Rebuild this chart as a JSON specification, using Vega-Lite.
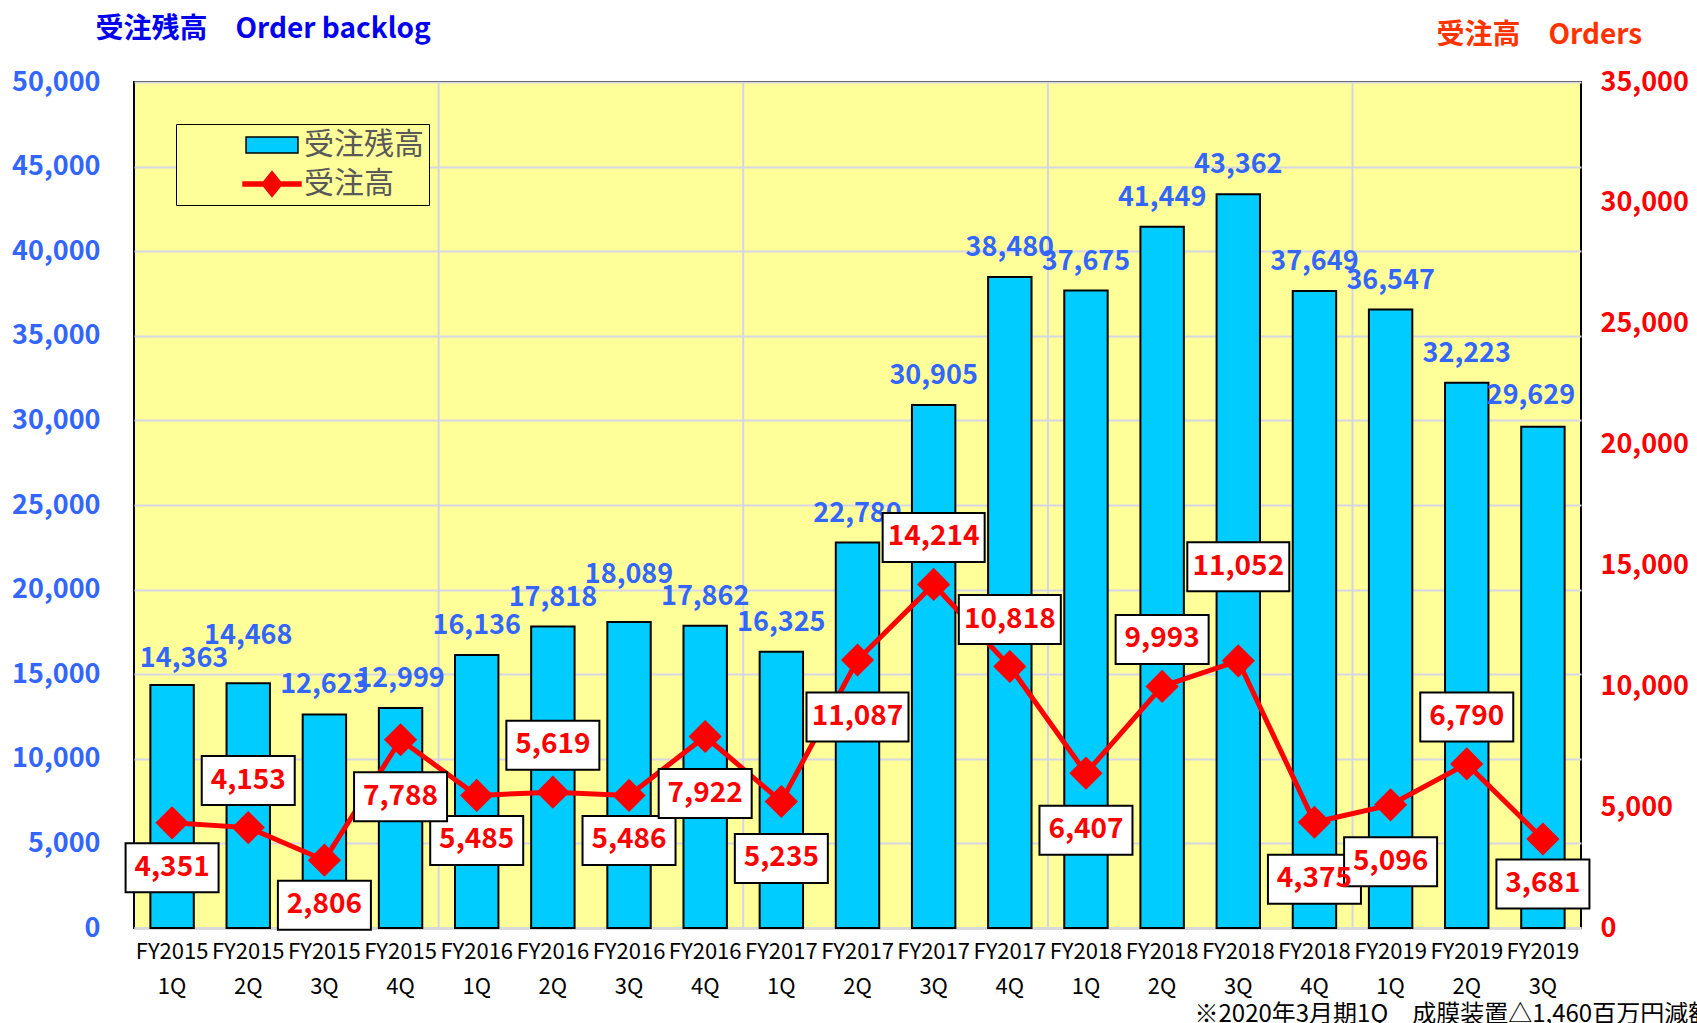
{
  "$schema": "https://vega.github.io/schema/vega-lite/v6.json",
  "autosize": {"type": "none"},
  "width": 1447,
  "height": 846,
  "padding": {"left": 134, "top": 82, "right": 116, "bottom": 95},
  "background": "#FFFFFF",
  "config": {
    "font": "Noto Sans CJK JP",
    "view": {"fill": "#FFFF99", "stroke": "#000000", "strokeWidth": 2}
  },
  "data": {
    "values": [
      {"period": "FY2015 1Q", "backlog": 14363, "orders": 4351},
      {"period": "FY2015 2Q", "backlog": 14468, "orders": 4153},
      {"period": "FY2015 3Q", "backlog": 12623, "orders": 2806},
      {"period": "FY2015 4Q", "backlog": 12999, "orders": 7788},
      {"period": "FY2016 1Q", "backlog": 16136, "orders": 5485},
      {"period": "FY2016 2Q", "backlog": 17818, "orders": 5619},
      {"period": "FY2016 3Q", "backlog": 18089, "orders": 5486},
      {"period": "FY2016 4Q", "backlog": 17862, "orders": 7922},
      {"period": "FY2017 1Q", "backlog": 16325, "orders": 5235},
      {"period": "FY2017 2Q", "backlog": 22780, "orders": 11087},
      {"period": "FY2017 3Q", "backlog": 30905, "orders": 14214},
      {"period": "FY2017 4Q", "backlog": 38480, "orders": 10818},
      {"period": "FY2018 1Q", "backlog": 37675, "orders": 6407},
      {"period": "FY2018 2Q", "backlog": 41449, "orders": 9993},
      {"period": "FY2018 3Q", "backlog": 43362, "orders": 11052},
      {"period": "FY2018 4Q", "backlog": 37649, "orders": 4375},
      {"period": "FY2019 1Q", "backlog": 36547, "orders": 5096},
      {"period": "FY2019 2Q", "backlog": 32223, "orders": 6790},
      {"period": "FY2019 3Q", "backlog": 29629, "orders": 3681}
    ]
  },
  "encoding": {
    "x": {
      "field": "period", "type": "nominal", "sort": null,
      "scale": {
        "domain": ["FY2015 1Q", "FY2015 2Q", "FY2015 3Q", "FY2015 4Q", "FY2016 1Q", "FY2016 2Q", "FY2016 3Q", "FY2016 4Q", "FY2017 1Q", "FY2017 2Q", "FY2017 3Q", "FY2017 4Q", "FY2018 1Q", "FY2018 2Q", "FY2018 3Q", "FY2018 4Q", "FY2019 1Q", "FY2019 2Q", "FY2019 3Q"],
        "paddingInner": 0.43, "paddingOuter": 0.215
      },
      "axis": {
        "labelExpr": "split(datum.value, ' ')",
        "labelFontSize": 22, "labelColor": "#000000", "labelFontWeight": "normal",
        "labelLineHeight": 35, "labelPadding": 13, "labelBaseline": "top",
        "labelAngle": 0, "labelOverlap": false, "ticks": false,
        "domainColor": "#D9D9D9", "domainWidth": 3, "grid": false,
        "title": "※2020年3月期1Q　成膜装置△1,460百万円減額",
        "titleX": 1060, "titleY": 93, "titleAlign": "left", "titleBaseline": "alphabetic",
        "titleFontSize": 24, "titleFontWeight": "normal", "titleColor": "#000000"
      }
    }
  },
  "resolve": {"scale": {"y": "independent"}},
  "layer": [
    {
      "transform": [{"filter": {"field": "period", "oneOf": ["FY2016 1Q", "FY2017 1Q", "FY2018 1Q", "FY2019 1Q"]}}],
      "mark": {"type": "rule", "color": "#D4D4E4", "strokeWidth": 2, "xOffset": -38.08},
      "encoding": {}
    },
    {
      "encoding": {
        "y": {
          "field": "backlog", "type": "quantitative",
          "scale": {"domain": [0, 50000], "nice": false},
          "axis": {
            "values": [0, 5000, 10000, 15000, 20000, 25000, 30000, 35000, 40000, 45000, 50000],
            "format": ",d", "labelColor": "#3366FF", "labelFontSize": 27, "labelFontWeight": "bold",
            "labelPadding": 34, "ticks": false, "domain": false,
            "grid": true, "gridColor": "#D6D6E4", "gridWidth": 2,
            "title": "受注残高　Order backlog", "titleAngle": 0, "titleX": -39, "titleY": -45,
            "titleAlign": "left", "titleBaseline": "alphabetic", "titleFontSize": 28,
            "titleFontWeight": "bold", "titleColor": "#0000EE"
          }
        }
      },
      "layer": [
        {
          "mark": {"type": "bar", "stroke": "#000000", "strokeWidth": 2},
          "encoding": {
            "color": {
              "datum": "受注残高", "type": "nominal",
              "scale": {"domain": ["受注残高", "受注高"], "range": ["#00CCFF", "#FF0000"]},
              "legend": {
                "title": null, "orient": "top-left", "offset": 42,
                "fillColor": "#FFFF99", "strokeColor": "#000000",
                "padding": 5, "symbolSize": 900, "symbolOffset": 75, "labelOffset": 16,
                "symbolType": "M-1.73,-0.53L1.73,-0.53L1.73,0.53L-1.73,0.53Z",
                "symbolStrokeColor": "#000000", "symbolStrokeWidth": 1.5, "symbolOpacity": 1,
                "rowPadding": 8, "labelFontSize": 30, "labelColor": "#595959"
              }
            }
          }
        },
        {
          "transform": [{"filter": {"field": "period", "oneOf": ["FY2015 3Q", "FY2015 4Q", "FY2016 1Q", "FY2016 2Q", "FY2016 4Q", "FY2017 1Q", "FY2017 2Q", "FY2017 3Q", "FY2017 4Q", "FY2018 1Q", "FY2018 2Q", "FY2018 3Q", "FY2018 4Q", "FY2019 1Q", "FY2019 2Q"]}}],
          "mark": {"type": "text", "color": "#3366FF", "fontSize": 27, "fontWeight": "bold", "baseline": "middle", "yOffset": -29},
          "encoding": {"text": {"field": "backlog", "type": "quantitative", "format": ",d"}}
        },
        {
          "transform": [{"filter": {"field": "period", "oneOf": ["FY2015 1Q"]}}],
          "mark": {"type": "text", "color": "#3366FF", "fontSize": 27, "fontWeight": "bold", "baseline": "middle", "yOffset": -26, "xOffset": 12},
          "encoding": {"text": {"field": "backlog", "type": "quantitative", "format": ",d"}}
        },
        {
          "transform": [{"filter": {"field": "period", "oneOf": ["FY2019 3Q"]}}],
          "mark": {"type": "text", "color": "#3366FF", "fontSize": 27, "fontWeight": "bold", "baseline": "middle", "yOffset": -31, "xOffset": -12},
          "encoding": {"text": {"field": "backlog", "type": "quantitative", "format": ",d"}}
        },
        {
          "transform": [{"filter": {"field": "period", "oneOf": ["FY2015 2Q", "FY2016 3Q"]}}],
          "mark": {"type": "text", "color": "#3366FF", "fontSize": 27, "fontWeight": "bold", "baseline": "middle", "yOffset": -47},
          "encoding": {"text": {"field": "backlog", "type": "quantitative", "format": ",d"}}
        }
      ]
    },
    {
      "encoding": {
        "y": {
          "field": "orders", "type": "quantitative",
          "scale": {"domain": [0, 35000], "nice": false},
          "axis": {
            "orient": "right",
            "values": [0, 5000, 10000, 15000, 20000, 25000, 30000, 35000],
            "format": ",d", "labelColor": "#FF0000", "labelFontSize": 27, "labelFontWeight": "bold",
            "labelPadding": 19, "ticks": false, "domain": false, "grid": false,
            "title": "受注高　Orders", "titleAngle": 0, "titleX": -145, "titleY": -39,
            "titleAlign": "left", "titleBaseline": "alphabetic", "titleFontSize": 28,
            "titleFontWeight": "bold", "titleColor": "#FF3300"
          }
        }
      },
      "layer": [
        {
          "mark": {"type": "line", "strokeWidth": 5, "stroke": "#FF0000"}
        },
        {
          "mark": {"type": "point", "shape": "diamond", "filled": true, "fill": "#FF0000", "size": 1100, "opacity": 1, "strokeWidth": 0}
        },
        {
          "mark": {"type": "point", "filled": true, "opacity": 0},
          "encoding": {
            "color": {"datum": "受注高", "type": "nominal"},
            "shape": {"datum": "受注高", "type": "nominal", "scale": {"domain": ["受注残高", "受注高"], "range": ["M-1.73,-0.53L1.73,-0.53L1.73,0.53L-1.73,0.53Z", "M-1.93,-0.13L-0.565,-0.13L0,-0.83L0.565,-0.13L1.93,-0.13L1.93,0.13L0.565,0.13L0,0.83L-0.565,0.13L-1.93,0.13Z"]}},
            "stroke": {"datum": "受注高", "type": "nominal", "scale": {"domain": ["受注残高", "受注高"], "range": ["#000000", "#FF0000"]}}
          }
        },
        {
          "transform": [{"filter": {"field": "period", "oneOf": ["FY2015 1Q", "FY2015 3Q", "FY2016 1Q", "FY2016 3Q", "FY2019 3Q"]}}],
          "mark": {"type": "point", "filled": true, "fill": "#FFFFFF", "stroke": "#000000", "strokeWidth": 2, "opacity": 1, "size": 400, "yOffset": 45},
          "encoding": {"shape": {"condition": {"test": "datum.orders >= 10000", "value": "M-5.1,-2.45L5.1,-2.45L5.1,2.45L-5.1,2.45Z"}, "value": "M-4.65,-2.45L4.65,-2.45L4.65,2.45L-4.65,2.45Z"}}
        },
        {
          "transform": [{"filter": {"field": "period", "oneOf": ["FY2015 1Q", "FY2015 3Q", "FY2016 1Q", "FY2016 3Q", "FY2019 3Q"]}}],
          "mark": {"type": "text", "color": "#FF0000", "fontSize": 28, "fontWeight": "bold", "baseline": "middle", "yOffset": 45},
          "encoding": {"text": {"field": "orders", "type": "quantitative", "format": ",d"}}
        },
        {
          "transform": [{"filter": {"field": "period", "oneOf": ["FY2015 4Q", "FY2016 4Q", "FY2017 1Q", "FY2017 2Q", "FY2018 1Q", "FY2018 4Q", "FY2019 1Q"]}}],
          "mark": {"type": "point", "filled": true, "fill": "#FFFFFF", "stroke": "#000000", "strokeWidth": 2, "opacity": 1, "size": 400, "yOffset": 57},
          "encoding": {"shape": {"condition": {"test": "datum.orders >= 10000", "value": "M-5.1,-2.45L5.1,-2.45L5.1,2.45L-5.1,2.45Z"}, "value": "M-4.65,-2.45L4.65,-2.45L4.65,2.45L-4.65,2.45Z"}}
        },
        {
          "transform": [{"filter": {"field": "period", "oneOf": ["FY2015 4Q", "FY2016 4Q", "FY2017 1Q", "FY2017 2Q", "FY2018 1Q", "FY2018 4Q", "FY2019 1Q"]}}],
          "mark": {"type": "text", "color": "#FF0000", "fontSize": 28, "fontWeight": "bold", "baseline": "middle", "yOffset": 57},
          "encoding": {"text": {"field": "orders", "type": "quantitative", "format": ",d"}}
        },
        {
          "transform": [{"filter": {"field": "period", "oneOf": ["FY2015 2Q", "FY2016 2Q", "FY2017 3Q", "FY2017 4Q", "FY2018 2Q", "FY2019 2Q"]}}],
          "mark": {"type": "point", "filled": true, "fill": "#FFFFFF", "stroke": "#000000", "strokeWidth": 2, "opacity": 1, "size": 400, "yOffset": -47},
          "encoding": {"shape": {"condition": {"test": "datum.orders >= 10000", "value": "M-5.1,-2.45L5.1,-2.45L5.1,2.45L-5.1,2.45Z"}, "value": "M-4.65,-2.45L4.65,-2.45L4.65,2.45L-4.65,2.45Z"}}
        },
        {
          "transform": [{"filter": {"field": "period", "oneOf": ["FY2015 2Q", "FY2016 2Q", "FY2017 3Q", "FY2017 4Q", "FY2018 2Q", "FY2019 2Q"]}}],
          "mark": {"type": "text", "color": "#FF0000", "fontSize": 28, "fontWeight": "bold", "baseline": "middle", "yOffset": -47},
          "encoding": {"text": {"field": "orders", "type": "quantitative", "format": ",d"}}
        },
        {
          "transform": [{"filter": {"field": "period", "oneOf": ["FY2018 3Q"]}}],
          "mark": {"type": "point", "filled": true, "fill": "#FFFFFF", "stroke": "#000000", "strokeWidth": 2, "opacity": 1, "size": 400, "yOffset": -94},
          "encoding": {"shape": {"condition": {"test": "datum.orders >= 10000", "value": "M-5.1,-2.45L5.1,-2.45L5.1,2.45L-5.1,2.45Z"}, "value": "M-4.65,-2.45L4.65,-2.45L4.65,2.45L-4.65,2.45Z"}}
        },
        {
          "transform": [{"filter": {"field": "period", "oneOf": ["FY2018 3Q"]}}],
          "mark": {"type": "text", "color": "#FF0000", "fontSize": 28, "fontWeight": "bold", "baseline": "middle", "yOffset": -94},
          "encoding": {"text": {"field": "orders", "type": "quantitative", "format": ",d"}}
        }
      ]
    }
  ]
}
